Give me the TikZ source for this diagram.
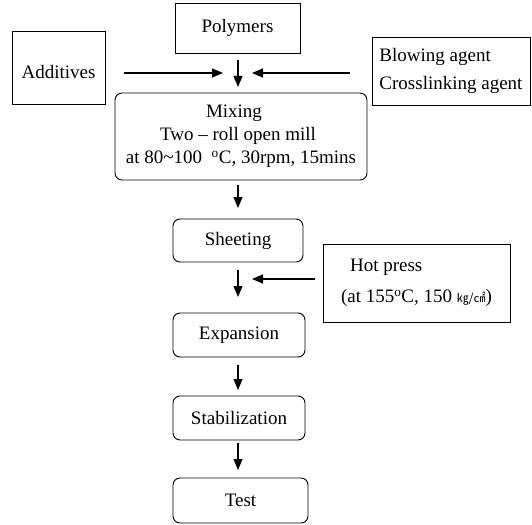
\documentclass[tikz,border=0pt]{standalone}
\usepackage{fontspec}
\setmainfont{Liberation Serif}
\newfontfamily\cjk{Noto Sans CJK KR}
\usetikzlibrary{arrows.meta}
\tikzset{
  box/.style={draw,line width=0.9pt,inner sep=0pt,outer sep=0pt,font=\fontsize{19}{22}\selectfont},
  stepbox/.style={box,rounded corners=7pt},
  flow/.style={draw,line width=1.1pt,-{Triangle[width=9pt,length=11pt]}}
}
\begin{document}
\begin{tikzpicture}[x=1pt,y=-1pt]
\path[use as bounding box] (0,0) rectangle (532,524);
% inputs
\node[box,minimum width=125pt,minimum height=50pt] (poly) at (237.5,28) {Polymers};
\node[box,minimum width=93pt,minimum height=73pt] (add) at (58.5,67.5) {\raisebox{-5pt}[\height][\depth]{Additives}};
\node[box,minimum width=158pt,minimum height=68pt,align=left] (blow) at (451,71) {Blowing agent\\[6pt]Crosslinking agent};
\coordinate (meet) at (238,73);
% process steps
\node[stepbox,minimum width=252pt,minimum height=87pt,align=center] (mix) at (241,136.5)
  {\hspace*{-14pt}Mixing\\[1pt]\hspace*{-6pt}Two -- roll open mill\\[1pt]at 80\textasciitilde100\ \ \textsuperscript{o}C, 30rpm, 15mins};
\node[stepbox,minimum width=130pt,minimum height=43pt] (sheet) at (238,240.5) {Sheeting};
\node[box,minimum width=187pt,minimum height=78pt,align=left] (hot) at (416.5,283)
  {\hspace*{9pt}Hot press\\[9pt](at 155\textsuperscript{o}C, 150 {\cjk\fontsize{12}{13}\selectfont ㎏/㎠})};
\coordinate (press) at (238,279);
\node[stepbox,minimum width=132pt,minimum height=44pt] (exp) at (239,335) {Expansion};
\node[stepbox,minimum width=132pt,minimum height=44pt] (stab) at (239,418) {Stabilization};
\node[stepbox,minimum width=135pt,minimum height=45pt] (test) at (240.5,500.5) {Test};
% arrows
\draw[flow,shorten <=19pt,shorten >=15pt] (add.east |- meet) -- (meet);
\draw[flow,shorten <=22pt,shorten >=14pt] (blow.west |- meet) -- (meet);
\draw[flow,shorten <=7pt,shorten >=6pt] (poly.south -| meet) -- (mix.north -| meet);
\draw[flow,shorten <=5pt,shorten >=11pt] (mix.south -| meet) -- (sheet.north -| meet);
\draw[flow,shorten <=8pt,shorten >=16pt] (sheet.south -| meet) -- (exp.north -| meet);
\draw[flow,shorten <=8pt,shorten >=14pt] (hot.west |- press) -- (press);
\draw[flow,shorten <=8pt,shorten >=6pt] (exp.south -| meet) -- (stab.north -| meet);
\draw[flow,shorten <=3pt,shorten >=8pt] (stab.south -| meet) -- (test.north -| meet);
\end{tikzpicture}
\end{document}
